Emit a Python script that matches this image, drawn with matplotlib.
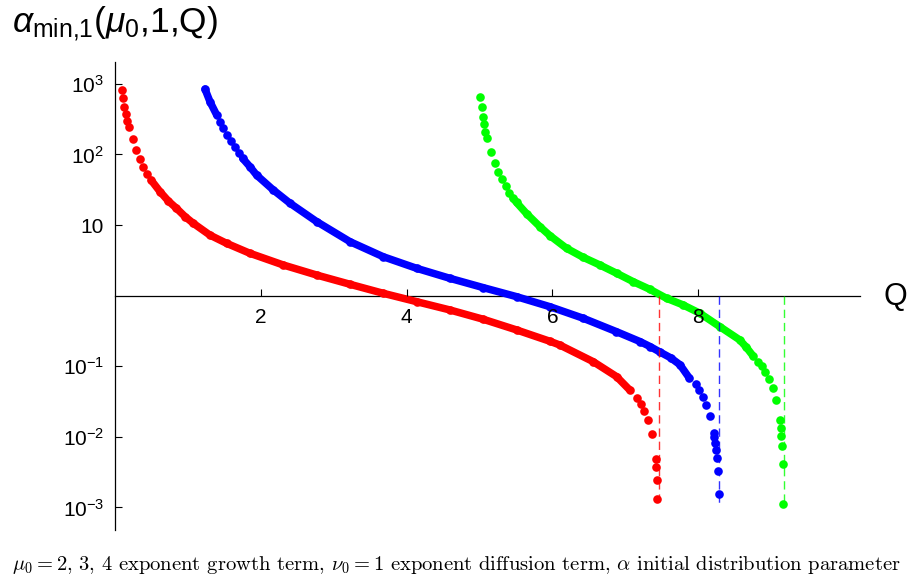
import numpy as np
import matplotlib.pyplot as plt
from matplotlib.ticker import NullLocator

# alpha_min,1(mu0, 1, Q), mu0 = 2 (red), 3 (blue), 4 (green)
red_q = [0.089, 0.111, 0.125, 0.144, 0.166, 0.193, 0.240, 0.285, 0.336, 0.377, 0.436, 0.495,
         0.615, 0.729, 0.84, 0.957, 1.071, 1.30, 1.53, 1.849, 2.306, 2.764, 3.221, 3.678, 4.136,
         4.593, 5.05, 5.507, 5.964, 6.10, 6.56, 6.88, 7.06,
         7.16, 7.21, 7.26, 7.31, 7.36, 7.42, 7.42, 7.43, 7.44]
red_a = [820, 625, 475, 374, 301, 243, 164, 115, 86, 67, 53, 43,
         29.7, 21.9, 17.3, 13.2, 10.6, 7.2, 5.5, 3.98, 2.72, 1.96, 1.45, 1.08, 0.822,
         0.627, 0.463, 0.327, 0.226, 0.20, 0.116, 0.0713, 0.0461,
         0.0352, 0.0292, 0.0233, 0.0172, 0.0109, 0.0049, 0.0037, 0.00245, 0.00132]

blue_q = [1.232, 1.30, 1.392, 1.438, 1.483, 1.538, 1.588, 1.643, 1.698, 1.749,
          1.849, 1.94, 2.169, 2.398, 2.764, 3.221, 3.678, 4.136, 4.593, 5.05, 5.507,
          5.964, 6.421, 6.878, 7.20, 7.34, 7.47, 7.62, 7.75, 7.88,
          7.97, 8.01, 8.06, 8.11, 8.16, 8.21, 8.22, 8.23, 8.245, 8.26, 8.27, 8.28]
blue_a = [845, 560, 363, 292, 235, 189, 155, 128, 106, 88,
          67, 51, 31.4, 20.4, 11.2, 5.82, 3.56, 2.44, 1.76, 1.30, 0.968,
          0.698, 0.479, 0.309, 0.224, 0.19, 0.16, 0.132, 0.105, 0.0676,
          0.0562, 0.0461, 0.0372, 0.0283, 0.020, 0.0115, 0.00986, 0.0083, 0.00652, 0.005,
          0.0033, 0.00155]

green_q = [5.004, 5.027, 5.05, 5.063, 5.08, 5.105, 5.155, 5.206, 5.256, 5.306, 5.357,
           5.406, 5.461, 5.507, 5.645, 5.827, 5.964, 6.193, 6.42, 6.65, 6.879, 7.107,
           7.336, 7.565, 7.79, 8.022, 8.296, 8.57, 8.66, 8.75,
           8.82, 8.87, 8.92, 8.97, 9.02, 9.07, 9.12, 9.13, 9.14, 9.15, 9.16, 9.165]
green_a = [661, 466, 343, 268, 210, 169, 110, 76.6, 57.1, 44.6, 35.5,
           28.8, 23.9, 20.9, 14.5, 9.5, 7.1, 4.69, 3.5, 2.72, 2.08, 1.58,
           1.23, 0.918, 0.741, 0.564, 0.364, 0.236, 0.186, 0.141,
           0.116, 0.101, 0.0822, 0.0655, 0.0488, 0.0333, 0.0174, 0.0135, 0.0103, 0.0074,
           0.00413, 0.00112]

# Q where alpha goes to zero
q_end = [7.456, 8.287, 9.174]

ytick_vals = [1e-3, 1e-2, 1e-1, 10, 100, 1000]
ytick_labels = [r'$10^{-3}$', r'$10^{-2}$', r'$10^{-1}$', '10', r'$10^{2}$', r'$10^{3}$']
xtick_vals = [2, 4, 6, 8]

plt.rcParams['font.family'] = ['Liberation Sans', 'DejaVu Sans']
plt.rcParams['mathtext.fontset'] = 'custom'
plt.rcParams['mathtext.rm'] = 'Liberation Sans'
plt.rcParams['mathtext.it'] = 'Liberation Sans:italic'

fig = plt.figure(figsize=(9.11, 5.79), dpi=100)
ax = fig.add_axes([0.1265, 0.0846, 0.8175, 0.8083])
ax.set_yscale('log')
ax.set_xlim(0, 10.22)
ax.set_ylim(10 ** -3.32, 10 ** 3.31)

curves = [
    (red_q, red_a, '#ff0000', [(0.49, 7.07)]),
    (blue_q, blue_a, '#0000ff', [(1.23, 1.40), (1.74, 7.89)]),
    (green_q, green_a, '#00ff00', [(5.45, 8.76)]),
]
for q, a, col, runs in curves:
    q = np.array(q)
    a = np.array(a)
    for lo, hi in runs:
        m = (q >= lo) & (q <= hi)
        ax.plot(q[m], a[m], color=col, lw=5.4, solid_capstyle='round',
                solid_joinstyle='round', zorder=3)
    ax.plot(q, a, 'o', color=col, ms=6.2, mew=0, zorder=3)

# dashed asymptotes drawn over the dots
for q0, (_, _, col, _) in zip(q_end, curves):
    ax.plot([q0, q0], [1, 1e-3], color=col, lw=1, dashes=(6, 3.5), alpha=0.8, zorder=4)

for s in ['top', 'right']:
    ax.spines[s].set_visible(False)
ax.spines['bottom'].set_position(('data', 1))
ax.spines['bottom'].set_linewidth(0.9)
ax.spines['left'].set_linewidth(0.9)

ax.set_xticks(xtick_vals)
ax.set_yticks(ytick_vals)
ax.set_yticklabels(ytick_labels)
ax.yaxis.set_minor_locator(NullLocator())
ax.tick_params(axis='x', direction='in', length=5, width=0.8, pad=9, labelsize=15)
ax.tick_params(axis='y', direction='in', length=5, width=0.8, pad=8, labelsize=15)
ax.xaxis.set_zorder(5)  # the "8" sits on top of the green dots

fig.text(0.013, 0.944, r'$\alpha_{\mathrm{min{,}1}}(\mu_0{,}1{,}\mathrm{Q})$', fontsize=25.5,
         va='baseline')
fig.text(0.970, 0.4876, 'Q', fontsize=22, va='center')
fig.text(0.0132, 0.0155,
         r'$\mu_0=2,\,3,\,4$ exponent growth term, $\nu_0=1$ exponent diffusion term, '
         r'$\alpha$ initial distribution parameter',
         family='cmr10', math_fontfamily='cm', fontsize=14.8, va='baseline')

fig.savefig('out.png', dpi=100)
